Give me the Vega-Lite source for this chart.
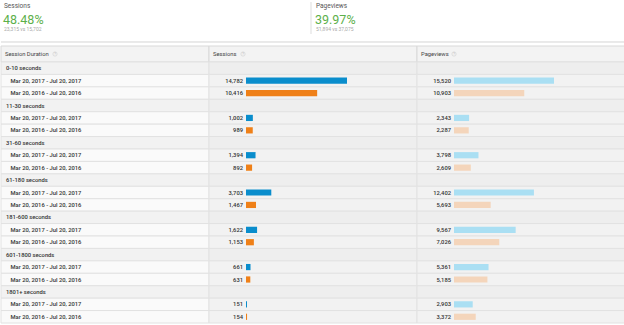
{
  "$schema": "https://vega.github.io/schema/vega-lite/v6.json",
  "padding": 0,
  "background": "white",
  "spacing": 0,
  "bounds": "flush",
  "datasets": {
    "kpi": [
      {"metric": "Sessions", "change": "48.48%", "compare": "23,315 vs 15,702"},
      {"metric": "Pageviews", "change": "39.97%", "compare": "51,894 vs 37,075"}
    ],
    "headers": [
      {"col": "Session Duration"},
      {"col": "Sessions"},
      {"col": "Pageviews"}
    ],
    "rows": [
      {"r": 0, "kind": "group", "label": "0-10 seconds"},
      {"r": 1, "kind": "period", "period": "2017", "label": "Mar 20, 2017 - Jul 20, 2017", "sessions": 14782, "pageviews": 15520},
      {"r": 2, "kind": "period", "period": "2016", "label": "Mar 20, 2016 - Jul 20, 2016", "sessions": 10416, "pageviews": 10903},
      {"r": 3, "kind": "group", "label": "11-30 seconds"},
      {"r": 4, "kind": "period", "period": "2017", "label": "Mar 20, 2017 - Jul 20, 2017", "sessions": 1002, "pageviews": 2343},
      {"r": 5, "kind": "period", "period": "2016", "label": "Mar 20, 2016 - Jul 20, 2016", "sessions": 989, "pageviews": 2287},
      {"r": 6, "kind": "group", "label": "31-60 seconds"},
      {"r": 7, "kind": "period", "period": "2017", "label": "Mar 20, 2017 - Jul 20, 2017", "sessions": 1394, "pageviews": 3798},
      {"r": 8, "kind": "period", "period": "2016", "label": "Mar 20, 2016 - Jul 20, 2016", "sessions": 892, "pageviews": 2609},
      {"r": 9, "kind": "group", "label": "61-180 seconds"},
      {"r": 10, "kind": "period", "period": "2017", "label": "Mar 20, 2017 - Jul 20, 2017", "sessions": 3703, "pageviews": 12402},
      {"r": 11, "kind": "period", "period": "2016", "label": "Mar 20, 2016 - Jul 20, 2016", "sessions": 1467, "pageviews": 5693},
      {"r": 12, "kind": "group", "label": "181-600 seconds"},
      {"r": 13, "kind": "period", "period": "2017", "label": "Mar 20, 2017 - Jul 20, 2017", "sessions": 1622, "pageviews": 9567},
      {"r": 14, "kind": "period", "period": "2016", "label": "Mar 20, 2016 - Jul 20, 2016", "sessions": 1153, "pageviews": 7026},
      {"r": 15, "kind": "group", "label": "601-1800 seconds"},
      {"r": 16, "kind": "period", "period": "2017", "label": "Mar 20, 2017 - Jul 20, 2017", "sessions": 661, "pageviews": 5361},
      {"r": 17, "kind": "period", "period": "2016", "label": "Mar 20, 2016 - Jul 20, 2016", "sessions": 631, "pageviews": 5185},
      {"r": 18, "kind": "group", "label": "1801+ seconds"},
      {"r": 19, "kind": "period", "period": "2017", "label": "Mar 20, 2017 - Jul 20, 2017", "sessions": 151, "pageviews": 2903},
      {"r": 20, "kind": "period", "period": "2016", "label": "Mar 20, 2016 - Jul 20, 2016", "sessions": 154, "pageviews": 3372}
    ]
  },
  "vconcat": [
    {
      "width": 624,
      "height": 46,
      "data": {"name": "kpi"},
      "encoding": {
        "x": {"field": "metric", "type": "nominal", "bandPosition": 0, "scale": {"domain": ["Sessions", "Pageviews"], "paddingInner": 0, "paddingOuter": 0}, "axis": null}
      },
      "layer": [
        {
          "mark": {"type": "text", "align": "left", "dx": 3, "fontSize": 6.5, "color": "#555"},
          "encoding": {
            "y": {"datum": 0.876, "type": "quantitative", "scale": {"domain": [0, 1]}, "axis": null},
            "text": {"field": "metric"}
          }
        },
        {
          "mark": {"type": "text", "align": "left", "dx": 2, "fontSize": 12.5, "color": "#5cb04a"},
          "encoding": {
            "y": {"datum": 0.565, "type": "quantitative", "axis": null},
            "text": {"field": "change"}
          }
        },
        {
          "mark": {"type": "text", "align": "left", "dx": 3, "fontSize": 5, "color": "#aaaaaa"},
          "encoding": {
            "y": {"datum": 0.363, "type": "quantitative", "axis": null},
            "text": {"field": "compare"}
          }
        },
        {
          "transform": [{"filter": "datum.metric === 'Pageviews'"}],
          "mark": {"type": "rule", "color": "#dddddd", "xOffset": -2},
          "encoding": {
            "y": {"datum": 0.261, "type": "quantitative", "axis": null},
            "y2": {"datum": 0.957}
          }
        },
        {
          "mark": {"type": "rule", "color": "#e2e2e2"},
          "encoding": {
            "x": {"value": 0},
            "x2": {"value": "width"},
            "y": {"datum": 0.087, "type": "quantitative", "axis": null}
          }
        }
      ]
    },
    {
      "width": 624,
      "height": 16,
      "data": {"name": "headers"},
      "encoding": {
        "x": {"field": "col", "type": "nominal", "bandPosition": 0, "scale": {"domain": ["Session Duration", "Sessions", "Pageviews"], "paddingInner": 0, "paddingOuter": 0}, "axis": null}
      },
      "layer": [
        {
          "mark": {"type": "rect", "fill": "#f3f3f3", "stroke": "#d9d9d9", "strokeWidth": 1},
          "encoding": {"x": {"field": "col", "type": "nominal", "axis": null}}
        },
        {
          "mark": {"type": "text", "align": "left", "dx": 4, "fontSize": 5.8, "color": "#444"},
          "encoding": {"text": {"field": "col"}}
        },
        {
          "transform": [{"filter": "datum.col === 'Session Duration'"}],
          "mark": {"type": "point", "shape": "circle", "filled": false, "size": 18, "stroke": "#c8c8c8", "strokeWidth": 0.7, "xOffset": 54}
        },
        {
          "transform": [{"filter": "datum.col === 'Session Duration'"}],
          "mark": {"type": "text", "text": "?", "fontSize": 3.5, "color": "#bbbbbb", "xOffset": 54}
        },
        {
          "transform": [{"filter": "datum.col === 'Sessions'"}],
          "mark": {"type": "point", "shape": "circle", "filled": false, "size": 18, "stroke": "#c8c8c8", "strokeWidth": 0.7, "xOffset": 34}
        },
        {
          "transform": [{"filter": "datum.col === 'Sessions'"}],
          "mark": {"type": "text", "text": "?", "fontSize": 3.5, "color": "#bbbbbb", "xOffset": 34}
        },
        {
          "transform": [{"filter": "datum.col === 'Pageviews'"}],
          "mark": {"type": "point", "shape": "circle", "filled": false, "size": 18, "stroke": "#c8c8c8", "strokeWidth": 0.7, "xOffset": 37}
        },
        {
          "transform": [{"filter": "datum.col === 'Pageviews'"}],
          "mark": {"type": "text", "text": "?", "fontSize": 3.5, "color": "#bbbbbb", "xOffset": 37}
        }
      ]
    },
    {
      "width": 624,
      "height": 261,
      "data": {"name": "rows"},
      "resolve": {"scale": {"x": "independent"}},
      "encoding": {
        "y": {"field": "r", "type": "ordinal", "scale": {"paddingInner": 0, "paddingOuter": 0}, "axis": null}
      },
      "layer": [
        {
          "mark": {"type": "rect", "stroke": "#e2e2e2", "strokeWidth": 1},
          "encoding": {
            "x": {"datum": "Session Duration", "type": "nominal", "scale": {"domain": ["Session Duration", "Sessions", "Pageviews"], "paddingInner": 0, "paddingOuter": 0}, "axis": null},
            "fill": {"condition": {"test": "datum.kind === 'group'", "value": "#f2f2f2"}, "value": "#fafafa"}
          }
        },
        {
          "mark": {"type": "rect", "stroke": "#e2e2e2", "strokeWidth": 1},
          "encoding": {
            "x": {"datum": "Sessions", "type": "nominal", "scale": {"domain": ["Session Duration", "Sessions", "Pageviews"], "paddingInner": 0, "paddingOuter": 0}, "axis": null},
            "fill": {"condition": {"test": "datum.kind === 'group'", "value": "#eeeeee"}, "value": "#f2f2f2"}
          }
        },
        {
          "mark": {"type": "rect", "stroke": "#e2e2e2", "strokeWidth": 1},
          "encoding": {
            "x": {"datum": "Pageviews", "type": "nominal", "scale": {"domain": ["Session Duration", "Sessions", "Pageviews"], "paddingInner": 0, "paddingOuter": 0}, "axis": null},
            "fill": {"condition": {"test": "datum.kind === 'group'", "value": "#eeeeee"}, "value": "#f2f2f2"}
          }
        },
        {
          "transform": [{"filter": "datum.kind === 'group'"}],
          "mark": {"type": "text", "align": "left", "dx": 5, "fontSize": 5.8, "fontWeight": 500, "color": "#333"},
          "encoding": {
            "x": {"datum": 0, "type": "quantitative", "scale": {"domain": [0, 1]}, "axis": null},
            "text": {"field": "label"}
          }
        },
        {
          "transform": [{"filter": "datum.kind === 'period'"}],
          "mark": {"type": "text", "align": "left", "dx": 9.5, "fontSize": 5.8, "fontWeight": 500, "color": "#333"},
          "encoding": {
            "x": {"datum": 0, "type": "quantitative", "scale": {"domain": [0, 1]}, "axis": null},
            "text": {"field": "label"}
          }
        },
        {
          "transform": [{"filter": "datum.kind === 'period'"}],
          "mark": {"type": "bar", "height": {"band": 0.5}},
          "encoding": {
            "x": {"field": "sessions", "type": "quantitative", "scale": {"domain": [-35857, 55469], "zero": false, "nice": false}, "axis": null},
            "x2": {"datum": 0},
            "color": {"condition": {"test": "datum.period === '2017'", "value": "#0a8dcc"}, "value": "#ef8018"}
          }
        },
        {
          "transform": [{"filter": "datum.kind === 'period'"}],
          "mark": {"type": "text", "align": "right", "dx": -3, "fontSize": 5.8, "fontWeight": 500, "color": "#333"},
          "encoding": {
            "x": {"datum": 0, "type": "quantitative", "scale": {"domain": [-35857, 55469], "zero": false, "nice": false}, "axis": null},
            "text": {"field": "sessions", "type": "quantitative", "format": ","}
          }
        },
        {
          "transform": [{"filter": "datum.kind === 'period'"}],
          "mark": {"type": "bar", "height": {"band": 0.5}},
          "encoding": {
            "x": {"field": "pageviews", "type": "quantitative", "scale": {"domain": [-70306, 26539], "zero": false, "nice": false}, "axis": null},
            "x2": {"datum": 0},
            "color": {"condition": {"test": "datum.period === '2017'", "value": "#aadff3"}, "value": "#f4d5bb"}
          }
        },
        {
          "transform": [{"filter": "datum.kind === 'period'"}],
          "mark": {"type": "text", "align": "right", "dx": -3, "fontSize": 5.8, "fontWeight": 500, "color": "#333"},
          "encoding": {
            "x": {"datum": 0, "type": "quantitative", "scale": {"domain": [-70306, 26539], "zero": false, "nice": false}, "axis": null},
            "text": {"field": "pageviews", "type": "quantitative", "format": ","}
          }
        }
      ]
    }
  ],
  "config": {
    "view": {"stroke": null},
    "font": "Roboto",
    "concat": {"spacing": 0}
  }
}
